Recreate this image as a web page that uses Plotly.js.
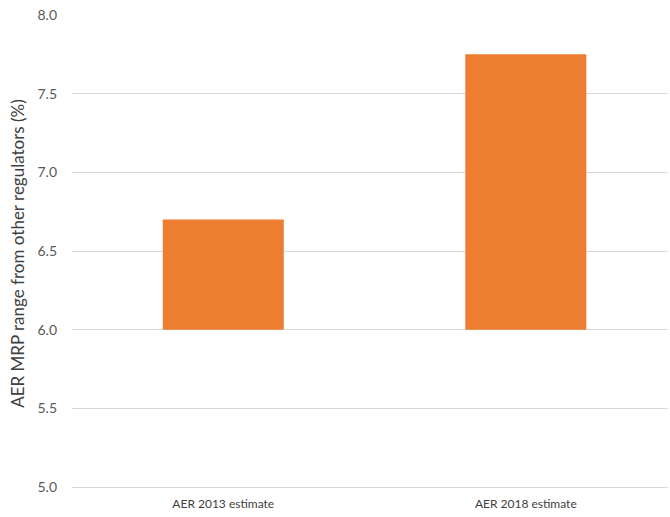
<!DOCTYPE html>
<html>
<head>
<meta charset="utf-8">
<script src="https://cdn.plot.ly/plotly-3.0.1.min.js"></script>
<style>html,body{margin:0;padding:0;background:#fff;}#chart{width:670px;height:517px;}</style>
</head>
<body>
<div id="chart"></div>
<script>
const categories = ["AER 2013 estimate", "AER 2018 estimate"];
const rangeLow = [6.0, 6.0];
const rangeHigh = [6.7, 7.75];
const yTickVals = [5.0, 5.5, 6.0, 6.5, 7.0, 7.5, 8.0];
const yTickText = ["5.0", "5.5", "6.0", "6.5", "7.0", "7.5", "8.0"];
const yTitle = "AER MRP range from other regulators (%)";

const heights = rangeHigh.map((h, i) => h - rangeLow[i]);

const trace = {
  type: "bar",
  x: categories,
  y: heights,
  base: rangeLow,
  width: 0.4,
  marker: {color: "#ED7D31"},
  hoverinfo: "skip"
};

const layout = {
  width: 670,
  height: 517,
  margin: {l: 72, r: 2, t: 15, b: 30},
  paper_bgcolor: "#fff",
  plot_bgcolor: "#fff",
  showlegend: false,
  font: {family: "Lato, 'Open Sans', sans-serif", color: "#595959", size: 13},
  xaxis: {
    range: [-0.5, 1.47],
    showgrid: false,
    zeroline: false,
    showline: true,
    linecolor: "#D9D9D9",
    linewidth: 1,
    ticks: "",
    ticklabelstandoff: 6,
    tickfont: {size: 12, color: "#404040"},
    fixedrange: true
  },
  yaxis: {
    range: [5, 8],
    tickvals: yTickVals,
    ticktext: yTickText,
    showgrid: true,
    gridcolor: "#D9D9D9",
    gridwidth: 1,
    zeroline: false,
    showline: false,
    ticks: "",
    ticklabelstandoff: 14,
    tickfont: {size: 14, color: "#595959"},
    fixedrange: true
  },
  annotations: [{
    text: yTitle,
    xref: "paper", yref: "paper",
    x: -0.0906, y: 0.494,
    xanchor: "center", yanchor: "middle",
    textangle: -90,
    showarrow: false,
    font: {size: 17, color: "#404040"}
  }]
};

Plotly.newPlot("chart", [trace], layout, {displayModeBar: false, staticPlot: true});
</script>
</body>
</html>
